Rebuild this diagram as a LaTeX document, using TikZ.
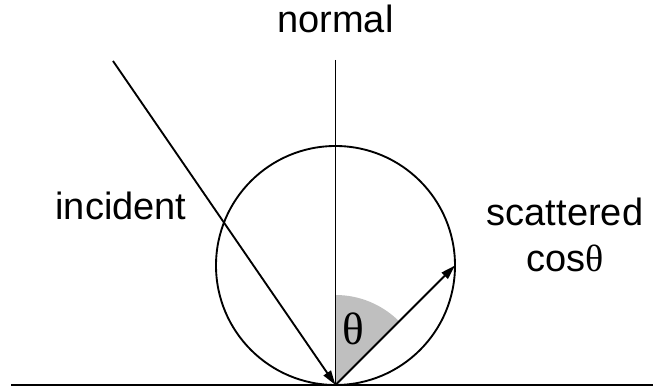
\documentclass[tikz,border=0pt]{standalone}
\usepackage{fontspec}
\setmainfont{Liberation Sans}
\newfontfamily\greekfont{Liberation Serif}
\usepackage{xcolor}
\usetikzlibrary{arrows.meta, positioning}

\begin{document}
\begin{tikzpicture}[
    x=0.75pt, y=0.75pt,
    font=\fontsize{28.5}{34.5}\selectfont,
    line width=1.4pt,
    lbl/.style={inner sep=0pt, anchor=base, align=center},
    ray/.style={-{Triangle[length=11pt, width=6.5pt]}},
    wedge/.style={fill=gray!50, draw=none},
]
\useasboundingbox (0,0) rectangle (653,392);

% geometry
\coordinate (foot) at (335.5,7);
\coordinate (ctr) at (335.5,126.5);
\coordinate (top) at (335.5,332);
\coordinate (src) at (113,331);
\coordinate (scat) at (455,126.5);
\coordinate (gl) at (11,7);
\coordinate (gr) at (653,7);

% labels
\node[lbl] (normal) at (335.5,359) {normal};
\node[lbl] (incident) at (121,172) {incident};
\node[lbl] (scattered) at (565,120) {scattered\\cos{\greekfont θ}};

\fill[wedge] (foot) -- ++(90:90) arc[start angle=90, end angle=45, radius=90] -- cycle;
\node[lbl, anchor=center, font=\fontsize{34}{40}\selectfont\greekfont] (theta) at (353,63) {θ};

\draw (ctr) circle[radius=119.5];
\draw (top) -- (foot);
\draw[ray] (src) -- (foot);
\draw[ray] (foot) -- (scat);
\draw[line width=1.7pt] (gl) -- (gr);

\end{tikzpicture}
\end{document}
